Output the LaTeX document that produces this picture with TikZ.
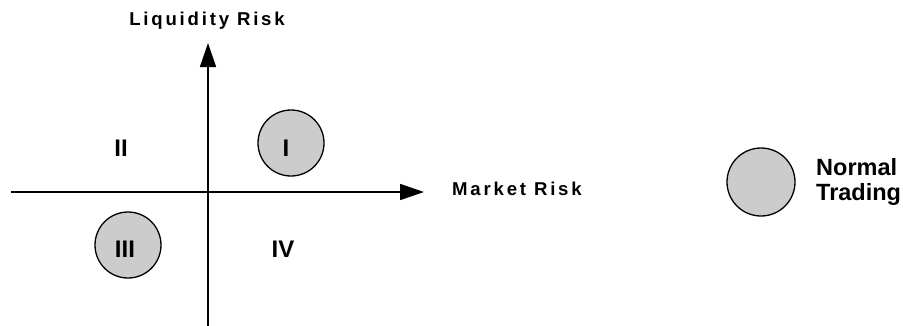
\documentclass[tikz,border=0pt]{standalone}
\usepackage{fontspec}
\setmainfont{Liberation Sans}
\usetikzlibrary{arrows.meta}
\begin{document}
\begin{tikzpicture}[x=1pt,y=-1pt,
  axis/.style={line width=1.6pt,-{Triangle[length=24pt,width=16pt]}},
  zone/.style={circle,draw,line width=1.3pt,fill=black!20,minimum size=66pt,inner sep=0pt},
  roman/.style={font=\fontsize{24}{24}\selectfont\bfseries,inner sep=0pt},
  axlabel/.style={font=\fontsize{18.6}{18.6}\selectfont\bfseries\addfontfeature{LetterSpace=15},inner sep=0pt},
  legtext/.style={font=\fontsize{23.5}{25}\selectfont\bfseries,inner sep=0pt,align=left}]
\useasboundingbox (0,0) rectangle (903,325);
\coordinate (vbot) at (208,328);
\coordinate (vtop) at (208,43);
\coordinate (hleft) at (11,192);
\coordinate (hright) at (424,192);
\draw[axis] (vbot) -- (vtop);
\draw[axis] (hleft) -- (hright);
\node[axlabel,anchor=base] (ylab) at (207,25) {Liquidity Risk};
\node[axlabel,anchor=base west] (xlab) at (452,195) {Market Risk};
\node[zone] (c1) at (291,143) {};
\node[zone] (c3) at (128,245) {};
\node[roman,anchor=base] (l1) at (286,156) {I};
\node[roman,anchor=base] (l2) at (121,156) {II};
\node[roman,anchor=base] (l3) at (125,257) {III};
\node[roman,anchor=base] (l4) at (283,257) {IV};
\node[zone,minimum size=68pt] (leg) at (761,182) {};
\node[legtext,anchor=base west] (legt) at (816,200) {Normal\\Trading};
\end{tikzpicture}
\end{document}
